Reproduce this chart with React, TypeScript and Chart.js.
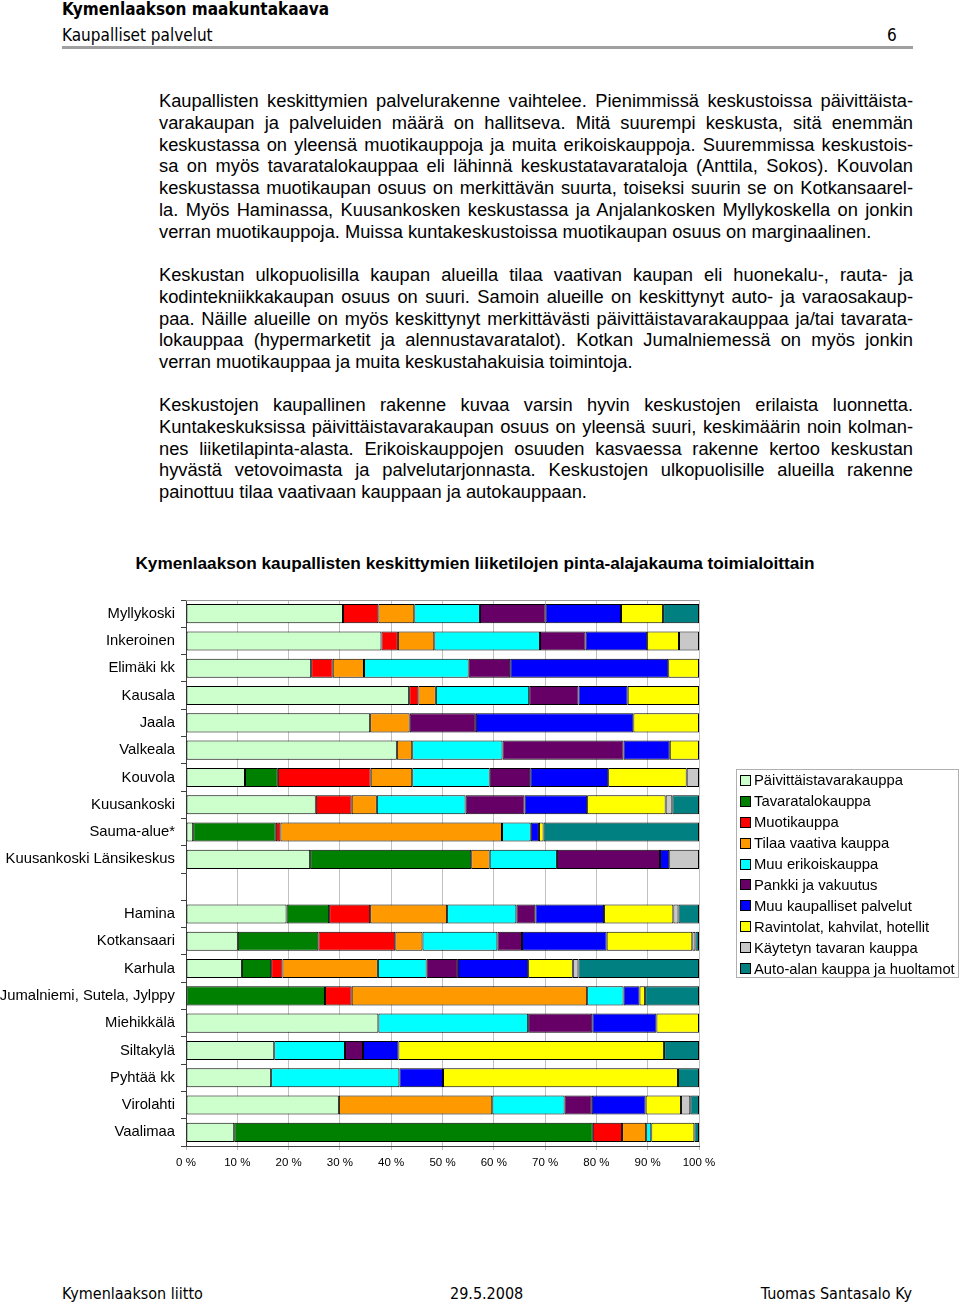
import { useEffect, useRef } from "react";
import { Chart, registerables } from "chart.js";

Chart.register(...registerables);

const categories = [
  "Myllykoski",
  "Inkeroinen",
  "Elimäki kk",
  "Kausala",
  "Jaala",
  "Valkeala",
  "Kouvola",
  "Kuusankoski",
  "Sauma-alue*",
  "Kuusankoski Länsikeskus",
  "",
  "Hamina",
  "Kotkansaari",
  "Karhula",
  "Jumalniemi, Sutela, Jylppy",
  "Miehikkälä",
  "Siltakylä",
  "Pyhtää kk",
  "Virolahti",
  "Vaalimaa",
];

const paivittaistavara = [30.6, 38.1, 24.4, 43.5, 35.9, 41.1, 11.5, 25.3, 1.4, 24.2, 0, 19.6, 10.1, 10.9, 0, 37.5, 17.2, 16.6, 29.8, 9.4];
const tavaratalo = [0, 0, 0, 0, 0, 0, 6.4, 0, 16.1, 31.4, 0, 8.3, 15.7, 5.7, 27.1, 0, 0, 0, 0, 69.9];
const muoti = [6.9, 3.2, 4.2, 1.8, 0, 0, 18.1, 7.0, 0.9, 0, 0, 8.0, 15.0, 2.2, 5.2, 0, 0, 0, 0, 5.7];
const tilaaVaativa = [7.0, 7.1, 6.1, 3.4, 7.7, 3.0, 8.1, 4.9, 43.2, 3.6, 0, 15.0, 5.3, 18.6, 45.9, 0, 0, 0, 29.9, 4.7];
const muuErikois = [12.8, 20.6, 20.4, 18.2, 0, 17.6, 15.1, 17.3, 5.6, 13.1, 0, 13.5, 14.6, 9.5, 7.1, 29.2, 13.8, 25.0, 14.1, 1.0];
const pankki = [12.8, 8.9, 8.1, 9.6, 12.9, 23.6, 7.9, 11.5, 0, 20.1, 0, 3.7, 4.8, 6.1, 0, 12.5, 3.5, 0, 5.3, 0];
const muuKaupallinen = [14.7, 12.0, 30.8, 9.6, 30.7, 9.0, 15.2, 12.2, 1.6, 1.8, 0, 13.4, 16.5, 13.7, 3.1, 12.5, 6.9, 8.5, 10.5, 0];
const ravintolat = [8.2, 6.2, 6.0, 13.9, 12.8, 5.7, 15.3, 15.3, 0.9, 0, 0, 13.5, 16.7, 8.7, 1.1, 8.3, 51.8, 45.8, 6.9, 8.4];
const kaytetty = [0, 3.9, 0, 0, 0, 0, 2.4, 1.3, 0, 5.8, 0, 1.0, 0.6, 1.1, 0, 0, 0, 0, 1.8, 0];
const autoala = [7.0, 0, 0, 0, 0, 0, 0, 5.2, 30.3, 0, 0, 4.0, 0.7, 23.5, 10.5, 0, 6.8, 4.1, 1.7, 0.9];

const seriesNames = [
  "Päivittäistavarakauppa",
  "Tavaratalokauppa",
  "Muotikauppa",
  "Tilaa vaativa kauppa",
  "Muu erikoiskauppa",
  "Pankki ja vakuutus",
  "Muu kaupalliset palvelut",
  "Ravintolat, kahvilat, hotellit",
  "Käytetyn tavaran kauppa",
  "Auto-alan kauppa ja huoltamot",
];
const seriesValues = [paivittaistavara, tavaratalo, muoti, tilaaVaativa, muuErikois, pankki, muuKaupallinen, ravintolat, kaytetty, autoala];
const seriesColors = ["#CCFFCC", "#008000", "#FF0000", "#FF9900", "#00FFFF", "#660066", "#0000FF", "#FFFF00", "#C8C8C8", "#008080"];

const xTicks = [0, 10, 20, 30, 40, 50, 60, 70, 80, 90, 100];

const paragraphs = [
  {
    top: 90,
    lines: [
      "Kaupallisten keskittymien palvelurakenne vaihtelee. Pienimmissä keskustoissa päivittäista-",
      "varakaupan ja palveluiden määrä on hallitseva. Mitä suurempi keskusta, sitä enemmän",
      "keskustassa on yleensä muotikauppoja ja muita erikoiskauppoja. Suuremmissa keskustois-",
      "sa on myös tavaratalokauppaa eli lähinnä keskustatavarataloja (Anttila, Sokos). Kouvolan",
      "keskustassa muotikaupan osuus on merkittävän suurta, toiseksi suurin se on Kotkansaarel-",
      "la. Myös Haminassa, Kuusankosken keskustassa ja Anjalankosken Myllykoskella on jonkin",
      "verran muotikauppoja. Muissa kuntakeskustoissa muotikaupan osuus on marginaalinen.",
    ],
  },
  {
    top: 264,
    lines: [
      "Keskustan ulkopuolisilla kaupan alueilla tilaa vaativan kaupan eli huonekalu-, rauta- ja",
      "kodintekniikkakaupan osuus on suuri. Samoin alueille on keskittynyt auto- ja varaosakaup-",
      "paa. Näille alueille on myös keskittynyt merkittävästi päivittäistavarakauppaa ja/tai tavarata-",
      "lokauppaa (hypermarketit ja alennustavaratalot). Kotkan Jumalniemessä on myös jonkin",
      "verran muotikauppaa ja muita keskustahakuisia toimintoja.",
    ],
  },
  {
    top: 394,
    lines: [
      "Keskustojen kaupallinen rakenne kuvaa varsin hyvin keskustojen erilaista luonnetta.",
      "Kuntakeskuksissa päivittäistavarakaupan osuus on yleensä suuri, keskimäärin noin kolman-",
      "nes liiketilapinta-alasta. Erikoiskauppojen osuuden kasvaessa rakenne kertoo keskustan",
      "hyvästä vetovoimasta ja palvelutarjonnasta. Keskustojen ulkopuolisille alueilla rakenne",
      "painottuu tilaa vaativaan kauppaan ja autokauppaan.",
    ],
  },
];

const ARIAL = "Arial, 'Liberation Sans', sans-serif";
const HAND = "'Comic Sans MS', 'DejaVu Sans Condensed', 'DejaVu Sans', sans-serif";

export default function App() {
  const canvasRef = useRef<HTMLCanvasElement | null>(null);

  useEffect(() => {
    document.body.style.margin = "0";
    const canvas = canvasRef.current;
    if (!canvas) return;

    const rowSums = categories.map((_, i) => seriesValues.reduce((s, arr) => s + arr[i], 0));
    const datasets = seriesNames.map((name, k) => ({
      label: name,
      data: seriesValues[k].map((v, i) => (v > 0 && rowSums[i] > 0 ? (v / rowSums[i]) * 100 : null)),
      backgroundColor: seriesColors[k],
      borderColor: "#000000",
      borderWidth: 1,
      borderSkipped: false as const,
      categoryPercentage: 0.7,
      barPercentage: 1.0,
    }));

    const topBorder = {
      id: "topBorder",
      afterDraw(chart: any) {
        const { ctx, chartArea } = chart;
        ctx.save();
        ctx.strokeStyle = "#9a9a9a";
        ctx.lineWidth = 1;
        ctx.beginPath();
        ctx.moveTo(chartArea.left, chartArea.top + 0.5);
        ctx.lineTo(chartArea.right, chartArea.top + 0.5);
        ctx.stroke();
        ctx.restore();
      },
    };

    const chart = new Chart(canvas, {
      type: "bar",
      data: { labels: categories, datasets },
      options: {
        indexAxis: "y",
        animation: false,
        responsive: false,
        maintainAspectRatio: false,
        layout: { padding: { top: 10, right: 261, left: 0, bottom: 0 } },
        plugins: {
          legend: { display: false },
          tooltip: { enabled: false },
          title: { display: false },
        },
        scales: {
          x: {
            stacked: true,
            min: 0,
            max: 100,
            afterFit: (scale: any) => {
              scale.height = 44;
              scale.paddingLeft = 0;
              scale.paddingRight = 0;
            },
            afterBuildTicks: (scale: any) => {
              scale.ticks = xTicks.map((v) => ({ value: v }));
            },
            ticks: {
              callback: (v: any) => `${v} %`,
              font: { family: ARIAL, size: 11.5 },
              color: "#000",
              padding: 6,
              maxRotation: 0,
            },
            grid: { color: "#c0c0c0", lineWidth: 1, tickLength: 4, drawTicks: true },
            border: { color: "#404040", width: 1 },
          },
          y: {
            stacked: true,
            afterFit: (scale: any) => {
              scale.width = 186;
              scale.paddingTop = 0;
              scale.paddingBottom = 0;
            },
            ticks: {
              font: { family: ARIAL, size: 14.8 },
              color: "#000",
              padding: 6,
              autoSkip: false,
            },
            grid: { display: true, drawOnChartArea: false, offset: true, tickLength: 5, color: "#404040" },
            border: { color: "#404040", width: 1 },
          },
        },
      },
      plugins: [topBorder],
    });

    return () => chart.destroy();
  }, []);

  const lineH = 21.75;

  return (
    <div style={{ position: "relative", width: 960, height: 1306, background: "#fff", overflow: "hidden" }}>
      {/* header */}
      <div style={{ position: "absolute", left: 62, top: -1, fontFamily: HAND, fontWeight: "bold", fontSize: 17, whiteSpace: "nowrap" }}>
        Kymenlaakson maakuntakaava
      </div>
      <div style={{ position: "absolute", left: 62, top: 25, fontFamily: HAND, fontSize: 17, whiteSpace: "nowrap" }}>
        Kaupalliset palvelut
      </div>
      <div style={{ position: "absolute", left: 887, top: 25, fontFamily: HAND, fontSize: 17 }}>6</div>
      <div style={{ position: "absolute", left: 62, top: 46, width: 851, height: 3, background: "#a0a0a0" }} />

      {/* body text */}
      {paragraphs.map((p, pi) =>
        p.lines.map((line, li) => {
          const last = li === p.lines.length - 1;
          return (
            <div
              key={`${pi}-${li}`}
              style={{
                position: "absolute",
                left: 159,
                width: 754,
                top: p.top + li * lineH,
                height: lineH,
                lineHeight: `${lineH}px`,
                fontFamily: ARIAL,
                fontSize: 18.3,
                color: "#000",
                whiteSpace: "nowrap",
                textAlign: last ? "left" : "justify",
                textAlignLast: last ? "left" : "justify",
              } as any}
            >
              {line}
            </div>
          );
        })
      )}

      {/* chart title */}
      <div
        style={{
          position: "absolute",
          left: 0,
          width: 950,
          top: 553,
          textAlign: "center",
          fontFamily: ARIAL,
          fontWeight: "bold",
          fontSize: 17.2,
          whiteSpace: "nowrap",
        }}
      >
        Kymenlaakson kaupallisten keskittymien liiketilojen pinta-alajakauma toimialoittain
      </div>

      <canvas
        ref={canvasRef}
        width={960}
        height={600}
        style={{ position: "absolute", left: 0, top: 590, width: 960, height: 600 }}
      />

      {/* legend */}
      <div
        style={{
          position: "absolute",
          left: 736,
          top: 769,
          width: 221,
          height: 207,
          border: "1px solid #b0b0b0",
          background: "#fff",
        }}
      >
        {seriesNames.map((name, k) => (
          <div
            key={name}
            style={{
              position: "absolute",
              left: 3,
              top: 0 + k * 20.9,
              height: 20.9,
              display: "flex",
              alignItems: "center",
              fontFamily: ARIAL,
              fontSize: 14.8,
              whiteSpace: "nowrap",
            }}
          >
            <span
              style={{
                display: "inline-block",
                width: 9,
                height: 9,
                background: seriesColors[k],
                border: "1px solid #000",
                marginRight: 3,
              }}
            />
            {name}
          </div>
        ))}
      </div>

      {/* footer */}
      <div style={{ position: "absolute", left: 62, top: 1284, fontFamily: HAND, fontSize: 16, whiteSpace: "nowrap" }}>
        Kymenlaakson liitto
      </div>
      <div style={{ position: "absolute", left: 450, top: 1284, fontFamily: HAND, fontSize: 16, whiteSpace: "nowrap" }}>
        29.5.2008
      </div>
      <div style={{ position: "absolute", right: 48, top: 1284, fontFamily: HAND, fontSize: 16, whiteSpace: "nowrap" }}>
        Tuomas Santasalo Ky
      </div>
    </div>
  );
}
